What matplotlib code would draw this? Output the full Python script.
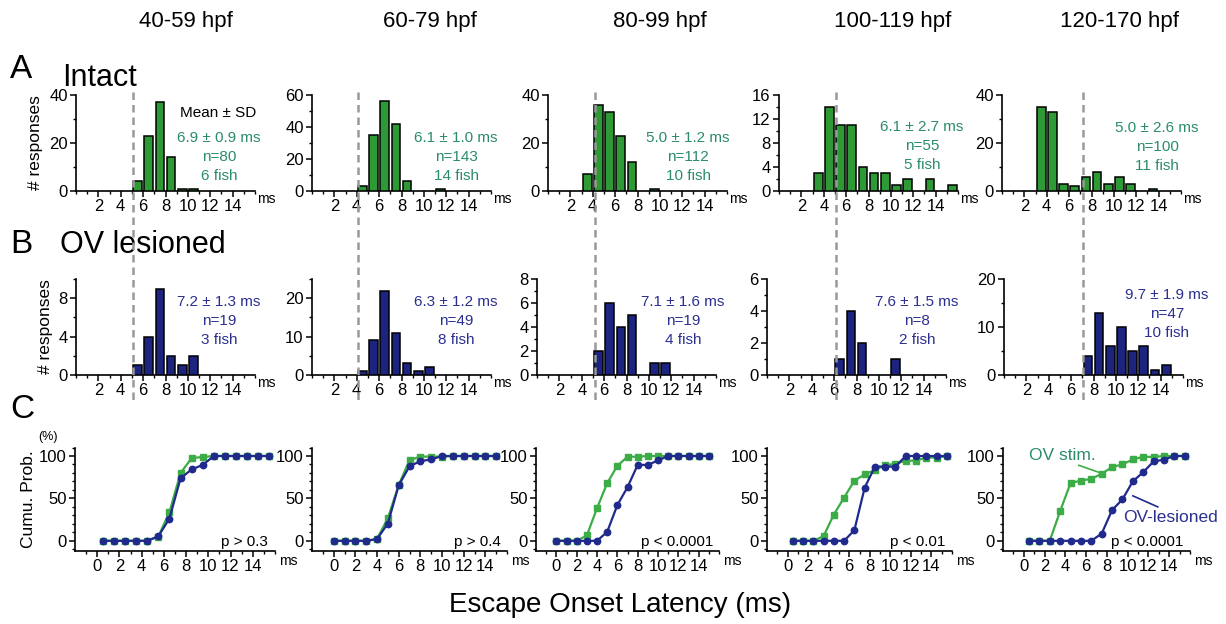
import matplotlib
matplotlib.use("Agg")
import matplotlib.pyplot as plt
from matplotlib.lines import Line2D
from matplotlib.ticker import FixedLocator, MultipleLocator
import numpy as np

W, H = 1226, 624
plt.rcParams["font.family"] = ["Liberation Sans", "DejaVu Sans"]

# ---- data -------------------------------------------------------------
age_groups = ["40-59 hpf", "60-79 hpf", "80-99 hpf", "100-119 hpf", "120-170 hpf"]
bins = np.arange(16)  # 1 ms bins, left edges

intact_counts = [
    [0, 0, 0, 0, 0, 4, 23, 37, 14, 1, 1, 0, 0, 0, 0, 0],
    [0, 0, 0, 0, 3, 35, 56, 42, 6, 0, 0, 1, 0, 0, 0, 0],
    [0, 0, 0, 7, 36, 33, 23, 12, 0, 1, 0, 0, 0, 0, 0, 0],
    [0, 0, 0, 3, 14, 11, 11, 4, 3, 3, 1, 2, 0, 2, 0, 1],
    [0, 0, 0, 35, 33, 3, 2, 6, 8, 3, 6, 3, 0, 1, 0, 0],
]
lesioned_counts = [
    [0, 0, 0, 0, 0, 1, 4, 9, 2, 1, 2, 0, 0, 0, 0, 0],
    [0, 0, 0, 0, 1, 9, 22, 11, 3, 1, 2, 0, 0, 0, 0, 0],
    [0, 0, 0, 0, 0, 2, 6, 4, 5, 0, 1, 1, 0, 0, 0, 0],
    [0, 0, 0, 0, 0, 0, 1, 4, 2, 0, 0, 1, 0, 0, 0, 0],
    [0, 0, 0, 0, 0, 0, 0, 4, 13, 6, 10, 5, 6, 1, 2, 0],
]

# cumulative probability (%) per bin
intact_cum = [
    [0, 0, 0, 0, 0, 5, 34, 80, 97.5, 98.8, 100, 100, 100, 100, 100, 100],
    [0, 0, 0, 0, 2.1, 26.6, 65.7, 95.1, 99.3, 99.3, 99.3, 100, 100, 100, 100, 100],
    [0, 0, 0, 6.3, 38.4, 67.9, 88.4, 99.1, 99.1, 100, 100, 100, 100, 100, 100, 100],
    [0, 0, 0, 5.5, 30.9, 50.9, 70.9, 78.2, 83.6, 89.1, 90.9, 94.5, 94.5, 98.2, 98.2, 100],
    [0, 0, 0, 35, 68, 71, 73, 79, 87, 90, 96, 99, 99, 100, 100, 100],
]
lesioned_cum = [
    [0, 0, 0, 0, 0, 5.3, 26.3, 73.7, 84.2, 89.5, 100, 100, 100, 100, 100, 100],
    [0, 0, 0, 0, 2.0, 20.4, 65.3, 87.8, 93.9, 95.9, 100, 100, 100, 100, 100, 100],
    [0, 0, 0, 0, 0, 10.5, 42.1, 63.2, 89.5, 89.5, 94.7, 100, 100, 100, 100, 100],
    [0, 0, 0, 0, 0, 0, 12.5, 62.5, 87.5, 87.5, 87.5, 100, 100, 100, 100, 100],
    [0, 0, 0, 0, 0, 0, 0, 8.5, 36.2, 48.9, 70.2, 80.9, 93.6, 95.7, 100, 100],
]
cum_shift = [0.5, 0.0, 0.0, 0.5, 0.5]

intact_stats = ["6.9 ± 0.9 ms", "6.1 ± 1.0 ms", "5.0 ± 1.2 ms", "6.1 ± 2.7 ms", "5.0 ± 2.6 ms"]
intact_n = ["n=80", "n=143", "n=112", "n=55", "n=100"]
intact_fish = ["6 fish", "14 fish", "10 fish", "5 fish", "11 fish"]
lesioned_stats = ["7.2 ± 1.3 ms", "6.3 ± 1.2 ms", "7.1 ± 1.6 ms", "7.6 ± 1.5 ms", "9.7 ± 1.9 ms"]
lesioned_n = ["n=19", "n=49", "n=19", "n=8", "n=47"]
lesioned_fish = ["3 fish", "8 fish", "4 fish", "2 fish", "10 fish"]
p_values = ["p > 0.3", "p > 0.4", "p < 0.0001", "p < 0.01", "p < 0.0001"]

intact_ymax = [40, 60, 40, 16, 40]
intact_yticks = [[0, 20, 40], [0, 20, 40, 60], [0, 20, 40], [0, 4, 8, 12, 16], [0, 20, 40]]
intact_yminor = [10, 10, 10, 2, 10]
lesioned_ymax = [10, 25, 8, 6, 20]
lesioned_yticks = [[0, 4, 8], [0, 10, 20], [0, 2, 4, 6, 8], [0, 2, 4, 6], [0, 10, 20]]
lesioned_yminor = [2, 5, 1, 1, 5]

# ---- colours / layout (pixels) ---------------------------------------
GREEN_BAR = "#2e9a36"
BLUE_BAR = "#1c2480"
GREEN_LINE = "#3cad46"
BLUE_LINE = "#1f2a8c"
GREEN_TXT = "#2a8c68"
BLUE_TXT = "#2b2f8f"

a_left = [76, 312, 548, 779, 1002]
b_left = [76, 312, 537, 767, 1004]
c_left = [75, 312, 536, 767, 1003]
c_width = [200, 195, 183, 185, 187]
HIST_W = 179
dash_x = [133, 358, 595, 836, 1083]
title_x = [186, 430, 660, 893, 1120]
a_text_pos = [(219, 138), (456, 138), (688, 138), (922, 127), (1157, 128)]
b_text_pos = [(219, 302), (456, 302), (683, 302), (917, 302), (1167, 295)]

fig = plt.figure(figsize=(W / 100, H / 100), dpi=100)


def add_px_axes(left, top, width, height):
    return fig.add_axes([left / W, 1 - (top + height) / H, width / W, height / H])


def fig_text(x, y, s, **kw):
    fig.text(x / W, 1 - y / H, s, **kw)


def style(ax):
    for side in ("top", "right"):
        ax.spines[side].set_visible(False)
    for side in ("left", "bottom"):
        ax.spines[side].set_linewidth(1.2)
    ax.tick_params(which="major", direction="out", length=4, width=1.1,
                   labelsize=12, pad=2)
    ax.tick_params(which="minor", direction="out", length=2.5, width=1)
    ax.patch.set_alpha(0)


def hist_panel(ax, counts, ymax, yticks, yminor, color):
    counts = np.array(counts)
    mask = counts > 0
    ax.bar(bins[mask] + 0.5, counts[mask], width=0.78, color=color,
           edgecolor="black", linewidth=1.1, zorder=3)
    ax.set_xlim(0, 16)
    ax.set_ylim(0, ymax)
    ax.xaxis.set_major_locator(FixedLocator(range(2, 15, 2)))
    ax.xaxis.set_minor_locator(MultipleLocator(1))
    ax.yaxis.set_major_locator(FixedLocator(yticks))
    ax.yaxis.set_minor_locator(MultipleLocator(yminor))
    style(ax)
    ax.text(1.01, -0.08, "ms", transform=ax.transAxes, fontsize=10,
            ha="left", va="center")


for i in range(5):
    # row A: intact
    ax = add_px_axes(a_left[i], 95, HIST_W, 96)
    hist_panel(ax, intact_counts[i], intact_ymax[i], intact_yticks[i],
               intact_yminor[i], GREEN_BAR)
    if i == 0:
        ax.set_ylabel("# responses", fontsize=12.5, labelpad=4)
    x, y = a_text_pos[i]
    for k, s in enumerate([intact_stats[i], intact_n[i], intact_fish[i]]):
        fig_text(x, y + 19 * k, s, color=GREEN_TXT, fontsize=11,
                 ha="center", va="center")

    # row B: OV lesioned
    ax = add_px_axes(b_left[i], 279, HIST_W, 96)
    hist_panel(ax, lesioned_counts[i], lesioned_ymax[i], lesioned_yticks[i],
               lesioned_yminor[i], BLUE_BAR)
    if i == 0:
        ax.set_ylabel("# responses", fontsize=12.5, labelpad=4)
    x, y = b_text_pos[i]
    for k, s in enumerate([lesioned_stats[i], lesioned_n[i], lesioned_fish[i]]):
        fig_text(x, y + 19 * k, s, color=BLUE_TXT, fontsize=11,
                 ha="center", va="center")

    # row C: cumulative probability
    ax = add_px_axes(c_left[i], 447.5, c_width[i], 103.5)
    xs = bins + cum_shift[i]
    ax.plot(xs, intact_cum[i], "-s", color=GREEN_LINE, lw=1.6, ms=4.2,
            zorder=3, clip_on=False)
    ax.plot(xs, lesioned_cum[i], "-o", color=BLUE_LINE, lw=1.6, ms=4.6,
            zorder=4, clip_on=False)
    ax.set_xlim(-2, 16)
    ax.set_ylim(-12, 110)
    ax.xaxis.set_major_locator(FixedLocator(range(0, 15, 2)))
    ax.xaxis.set_minor_locator(FixedLocator(range(-1, 17)))
    ax.yaxis.set_major_locator(FixedLocator([0, 50, 100]))
    ax.yaxis.set_minor_locator(FixedLocator(range(-10, 111, 10)))
    style(ax)
    ax.text(1.02, -0.1, "ms", transform=ax.transAxes, fontsize=10,
            ha="left", va="center")
    ax.text(15.4, -1, p_values[i], fontsize=11, ha="right", va="center")
    if i == 0:
        ax.set_ylabel("Cumu. Prob.", fontsize=12.5, labelpad=2)
    if i == 4:
        ax.text(3.7, 101, "OV stim.", color=GREEN_TXT, fontsize=12.5,
                ha="center", va="center")
        ax.plot([5.3, 7.4], [89, 80], color=GREEN_LINE, lw=1.2)
        ax.text(14.1, 28, "OV-lesioned", color=BLUE_TXT, fontsize=12.5,
                ha="center", va="center", clip_on=False)
        ax.plot([10.5, 12.9], [53, 40], color=BLUE_LINE, lw=1.2)

    # column title and dashed onset marker
    fig_text(title_x[i], 22, age_groups[i], fontsize=16, ha="center",
             va="center")
    fig.add_artist(Line2D([dash_x[i] / W] * 2, [1 - 92 / H, 1 - 400 / H],
                          transform=fig.transFigure, color="#999999",
                          lw=1.8, linestyle=(0, (3, 2)), zorder=5))

# panel letters and row titles
fig_text(10, 70, "A", fontsize=24, ha="left", va="center")
fig_text(62, 78, "Intact", fontsize=22, ha="left", va="center")
fig_text(10, 245, "B", fontsize=24, ha="left", va="center")
fig_text(60, 245, "OV lesioned", fontsize=22, ha="left", va="center")
fig_text(10, 410, "C", fontsize=24, ha="left", va="center")
fig_text(48, 437, "(%)", fontsize=9, ha="center", va="center")
fig_text(180, 113, "Mean ± SD", fontsize=11, ha="left", va="center")
fig_text(620, 605, "Escape Onset Latency (ms)", fontsize=20, ha="center",
         va="center")

fig.savefig("out.png", dpi=100)
